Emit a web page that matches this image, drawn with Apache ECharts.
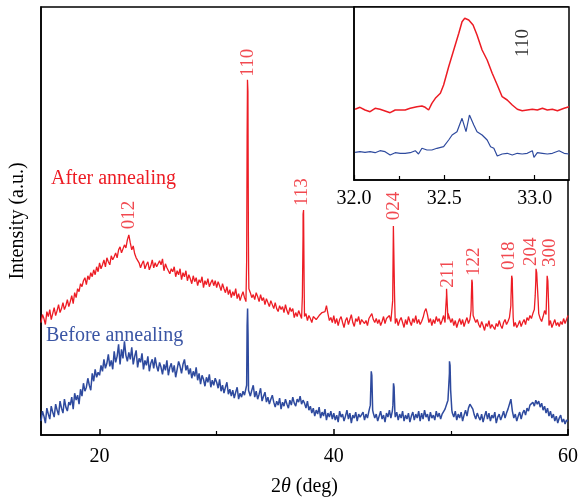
<!DOCTYPE html>
<html><head><meta charset="utf-8">
<script src="https://cdn.jsdelivr.net/npm/echarts@6/dist/echarts.min.js"></script>
<style>html,body{margin:0;padding:0;background:#fff}#c{width:581px;height:502px}</style>
</head><body><div id="c"></div>
<script>
// 2θ grid of the scanned baselines
const angleStart = 15;
const angleStep = 0.125;
// After annealing (red), intensity in a.u.
const redBase = [
113,121,117,111,124,119,126,116,122,128,120,125,131,123,127,133,126,130,136,129,
134,140,132,143,138,147,144,152,149,155,158,151,160,156,163,159,166,161,169,164,
173,167,171,176,169,178,174,171,180,176,179,183,178,186,189,183,185,191,188,196,
201,193,186,190,182,178,180,173,168,172,175,167,171,174,166,170,176,168,173,169,
168,175,171,177,165,172,168,170,162,167,164,169,159,165,161,167,156,163,159,165,
155,161,157,152,160,154,158,150,156,153,159,148,155,151,157,149,153,156,150,155,
148,154,150,145,152,147,143,149,141,146,138,144,140,147,137,142,135,140,144,138,
134,345,147,143,138,141,136,143,139,134,141,135,138,131,137,133,129,135,131,127,
133,127,124,130,126,129,123,131,125,121,128,124,127,118,123,119,125,121,117,200,
119,122,115,120,117,113,119,121,116,114,120,118,123,121,124,130,122,115,118,113,
120,112,117,110,116,119,113,108,115,118,111,116,121,113,109,117,114,119,111,116,
118,112,115,110,117,118,122,116,113,117,112,116,110,114,119,112,117,115,120,114,
116,211,112,117,110,115,118,113,108,116,111,119,114,110,117,113,120,112,116,111,
114,118,124,127,121,113,117,110,116,112,119,114,117,111,115,120,113,140,116,120,
113,117,110,115,108,113,117,111,116,109,114,118,112,116,140,130,119,113,116,111,
108,114,110,105,112,109,115,107,111,113,106,112,109,115,110,107,113,116,111,114,
118,135,150,109,113,108,111,115,109,113,116,111,118,115,120,117,122,126,155,152,
122,117,114,119,125,121,158,110,115,108,112,116,110,113,109,114,111,117,112,116,
120];
const redPeaks = [
[22.4,194],
[32.56,175],[32.6,300],[32.63,357],[32.67,345],[32.71,200],[32.73,165],
[37.32,140],[37.38,222],[37.42,226],[37.47,150],
[45.03,135],[45.09,210],[45.13,212],[45.19,140],
[49.55,125],[49.63,147],[49.68,145],[49.76,122],
[51.72,125],[51.79,156],[51.83,153],[51.9,120],
[55.12,130],[55.19,160],[55.24,157],[55.32,118],
[57.2,140],[57.27,167],[57.33,163],[57.45,135],
[58.15,130],[58.22,160],[58.28,155],[58.36,125]
];
// Before annealing (blue)
const blueBase = [
14,24,19,12,27,21,16,29,23,18,31,25,20,34,27,22,36,28,24,33,
30,38,26,42,35,40,31,46,39,52,44,48,57,50,45,62,54,66,58,63,
60,70,64,76,67,72,81,69,75,66,84,73,79,91,71,86,77,94,80,74,
83,76,88,71,79,85,68,77,73,82,66,75,70,79,64,72,76,67,78,69,
64,73,68,61,71,65,75,60,68,72,63,70,58,66,74,69,62,71,76,65,
70,61,67,57,64,59,68,55,62,51,60,56,49,58,53,61,48,55,50,57,
53,47,56,44,50,42,48,53,41,46,39,45,37,43,48,36,42,38,44,40,
42,120,47,39,45,50,38,44,36,41,47,34,39,43,33,38,31,36,40,33,
28,34,30,37,26,33,29,36,31,27,35,30,38,32,29,36,33,39,31,35,
32,27,34,25,29,22,27,19,25,21,28,17,23,19,26,15,22,18,24,16,
22,15,20,13,24,18,21,14,19,25,16,22,12,20,17,23,14,21,18,16,
23,15,21,17,24,28,60,22,17,21,14,19,24,16,20,13,22,18,25,17,
24,50,18,23,15,21,17,24,14,20,16,22,13,19,23,15,21,17,24,14,
22,16,25,18,21,14,23,17,20,15,24,18,22,16,21,19,26,24,35,62,
45,22,18,24,15,21,17,23,14,20,25,19,27,31,33,26,20,16,22,18,
15,21,13,19,24,16,22,14,20,17,23,12,18,21,15,19,24,17,22,26,
28,36,24,17,21,14,19,23,16,22,25,20,27,24,30,28,33,29,35,31,
34,28,32,25,29,22,27,19,24,17,21,14,19,12,17,20,13,16,11,15,
14];
const bluePeaks = [
[32.56,50],[32.6,110],[32.64,127],[32.68,100],[32.72,45],
[43.12,30],[43.2,64],[43.32,25],
[45.05,30],[45.1,52],[45.15,48],[45.22,22],
[49.82,50],[49.88,74],[49.93,70],[49.98,45],[50.08,25],
[55.18,38]
];
// Peak labels (hkl) : [2θ, intensity, text]
const peakLabels = [
[22.49,221,'012'],[32.7,374,'110'],[37.3,244,'113'],[45.13,230,'024'],
[49.72,162,'211'],[51.94,174,'122'],[55.0,180,'018'],[56.87,184,'204'],[58.49,183,'300']
];
const mainMajorTicks = [20,40,60];
const mainMinorTicks = [30,50];
// Inset: 110 peak zoom
const insetRed = [
[32.006,70.7],[32.033,72.7],[32.061,70],[32.089,68.3],[32.117,71.7],[32.144,70.7],[32.172,69],[32.2,67.3],
[32.228,70],[32.256,70],[32.283,70],[32.311,71.7],[32.348,73.3],[32.376,74],[32.394,72.7],[32.413,70],
[32.431,76.7],[32.45,81.7],[32.478,86.7],[32.496,95],[32.524,113.3],[32.552,130],[32.58,146.7],[32.598,158.3],
[32.613,161.7],[32.635,160],[32.659,155],[32.681,145],[32.709,130],[32.737,120],[32.765,106.7],[32.793,95],
[32.82,83.3],[32.848,80],[32.876,75],[32.904,70.7],[32.931,69.3],[32.959,70],[32.987,70.7],[33.015,70],
[33.043,71.7],[33.07,70],[33.098,70.7],[33.126,69.3],[33.163,71.7],[33.19,73.3]
];
const insetBlue = [
[32.006,27.7],[32.033,28.3],[32.061,27.7],[32.089,28.3],[32.117,27.3],[32.144,29.3],[32.172,28.3],[32.2,25],
[32.228,27.3],[32.256,26.7],[32.283,26.7],[32.311,27.3],[32.339,29.3],[32.357,26],[32.376,31.7],[32.404,30],
[32.431,30],[32.459,31.7],[32.496,33.3],[32.524,40],[32.543,45],[32.57,48.3],[32.598,61.7],[32.62,48.3],
[32.639,65],[32.663,55],[32.681,48.3],[32.709,45],[32.737,40],[32.756,33.3],[32.774,31.7],[32.793,24],
[32.82,26],[32.848,26.7],[32.876,25],[32.904,26.7],[32.931,26],[32.959,26.7],[32.987,29.3],[32.996,22.7],
[33.015,27.3],[33.043,26.7],[33.07,26],[33.098,26.7],[33.135,29.3],[33.163,26.7],[33.19,26]
];
const insetMajorTicks = [32.0,32.5,33.0];
const insetMinorTicks = [32.25,32.75];
const insetLabel = [[32.933,137,'110']];

function merge(base, peaks){
  const pts = base.map((v,i)=>[angleStart + i*angleStep, v]).concat(peaks);
  pts.sort((a,b)=>a[0]-b[0]);
  return pts;
}
const RED = '#ed1c24', BLUE = '#2e4a9e';
const FONT = '"Liberation Serif", "DejaVu Serif", serif';

const chart = echarts.init(document.getElementById('c'), null, {renderer:'canvas'});
chart.setOption({
  animation:false,
  backgroundColor:'#fff',
  grid:[
    {left:40, top:7, right:11, bottom:65, show:true, borderColor:'#000', borderWidth:1.5},
    {left:354, top:7, width:215, height:173, show:true, backgroundColor:'#fff', borderColor:'#000', borderWidth:1.5, z:5}
  ],
  xAxis:[
    {gridIndex:0, type:'value', min:15, max:60,
     axisLine:{show:true, lineStyle:{color:'#000', width:1.5}},
     axisTick:{show:true, inside:true, length:6, customValues:mainMajorTicks, lineStyle:{color:'#000', width:1.5}},
     axisLabel:{customValues:mainMajorTicks, margin:12, color:'#000', fontSize:20, fontFamily:FONT},
     splitLine:{show:false},
     name:'2{i|θ} (deg)', nameLocation:'middle', nameGap:42,
     nameTextStyle:{color:'#000', fontSize:20, fontFamily:FONT, rich:{i:{fontStyle:'italic', fontSize:20, fontFamily:FONT, color:'#000'}}}},
    {gridIndex:0, type:'value', min:15, max:60, position:'bottom',
     axisLine:{show:false},
     axisTick:{show:true, inside:true, length:4, customValues:mainMinorTicks, lineStyle:{color:'#000', width:1.2}},
     axisLabel:{show:false}, splitLine:{show:false}},
    {gridIndex:1, type:'value', min:32, max:33.19,
     axisLine:{show:true, lineStyle:{color:'#000', width:1.5}},
     axisTick:{show:true, inside:true, length:5, customValues:insetMajorTicks, lineStyle:{color:'#000', width:1.2}},
     axisLabel:{customValues:insetMajorTicks, margin:9, color:'#000', fontSize:20, fontFamily:FONT, formatter:v=>v.toFixed(1)},
     splitLine:{show:false}, z:6},
    {gridIndex:1, type:'value', min:32, max:33.19, position:'bottom',
     axisLine:{show:false},
     axisTick:{show:true, inside:true, length:4, customValues:insetMinorTicks, lineStyle:{color:'#000', width:1.2}},
     axisLabel:{show:false}, splitLine:{show:false}, z:6}
  ],
  yAxis:[
    {gridIndex:0, type:'value', min:0, max:430,
     axisLine:{show:true, lineStyle:{color:'#000', width:1.5}},
     axisTick:{show:false}, axisLabel:{show:false}, splitLine:{show:false},
     name:'Intensity (a.u.)', nameLocation:'middle', nameGap:13,
     nameTextStyle:{color:'#000', fontSize:20, fontFamily:FONT}},
    {gridIndex:1, type:'value', min:0, max:173,
     axisLine:{show:true, lineStyle:{color:'#000', width:1.5}},
     axisTick:{show:false}, axisLabel:{show:false}, splitLine:{show:false}, z:6}
  ],
  series:[
    {type:'line', xAxisIndex:0, yAxisIndex:0, data:merge(redBase, redPeaks), showSymbol:false,
     lineStyle:{color:RED, width:1.3}, z:2},
    {type:'line', xAxisIndex:0, yAxisIndex:0, data:merge(blueBase, bluePeaks), showSymbol:false,
     lineStyle:{color:BLUE, width:1.5}, z:2},
    {type:'scatter', xAxisIndex:0, yAxisIndex:0, symbolSize:0, data:peakLabels, z:3,
     label:{show:true, position:'inside', rotate:90, color:RED, fontSize:19, fontFamily:FONT,
       align:'center', verticalAlign:'middle', formatter:p=>p.data[2]}},
    {type:'line', xAxisIndex:2, yAxisIndex:1, data:insetRed, showSymbol:false,
     lineStyle:{color:RED, width:1.5}, z:7},
    {type:'line', xAxisIndex:2, yAxisIndex:1, data:insetBlue, showSymbol:false,
     lineStyle:{color:BLUE, width:1.2}, z:7},
    {type:'scatter', xAxisIndex:2, yAxisIndex:1, symbolSize:0, data:insetLabel, z:8,
     label:{show:true, position:'inside', rotate:90, color:'#000', fontSize:19, fontFamily:FONT,
       align:'center', verticalAlign:'middle', formatter:p=>p.data[2]}}
  ],
  graphic:[
    {type:'text', left:51, top:169, z:10, style:{text:'After annealing', fill:RED, fontSize:20, fontFamily:FONT}},
    {type:'text', left:46, top:326, z:10, style:{text:'Before annealing', fill:'#3a55a4', fontSize:20, fontFamily:FONT}}
  ]
});
</script></body></html>
